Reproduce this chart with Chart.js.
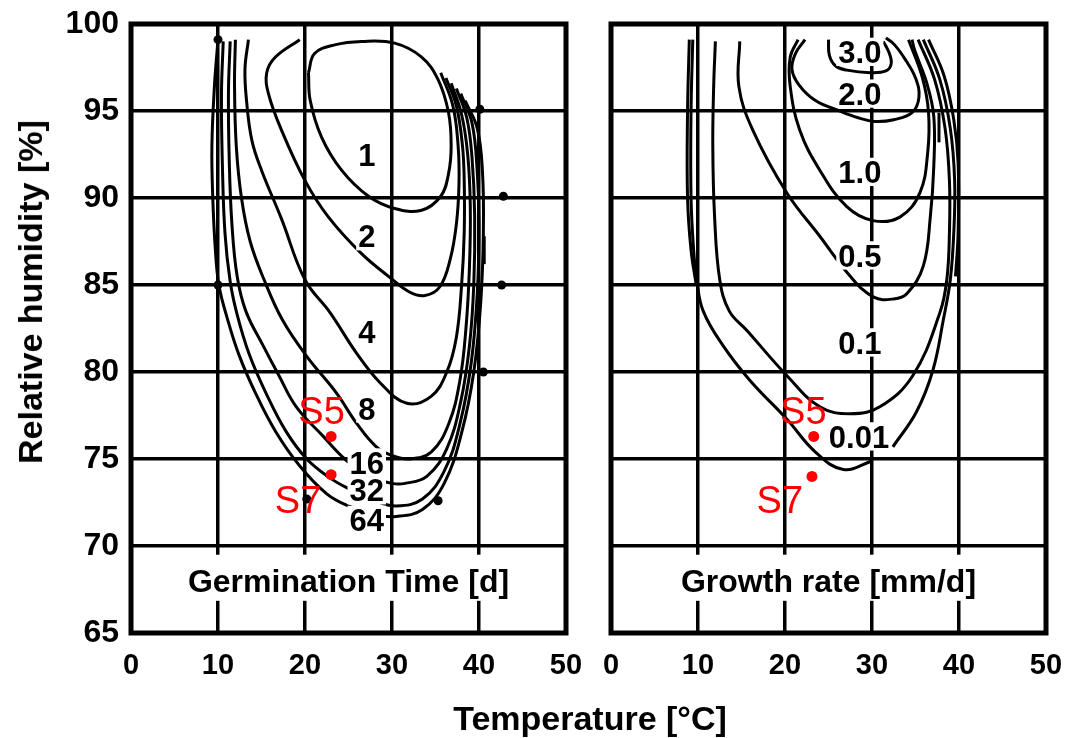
<!DOCTYPE html>
<html>
<head>
<meta charset="utf-8">
<script src="https://cdn.jsdelivr.net/npm/chart.js@4.4.1/dist/chart.umd.min.js"></script>
<style>
  body { margin: 0; background: #fff; }
  #wrap { position: relative; width: 1066px; height: 738px; overflow: hidden; background: #fff; }
  #wrap canvas { position: absolute; top: 0; }
  .ttl { position: absolute; font-family: "Liberation Sans", Arial, sans-serif; font-weight: bold; color: #000; white-space: nowrap; line-height: 1; }
  #ytitle { left: 30px; top: 292px; font-size: 34px; transform: translate(-50%, -50%) rotate(-90deg); }
  #xtitle { left: 590px; top: 718px; font-size: 34px; transform: translate(-50%, -50%); font-family: "Liberation Sans Narrow", "Liberation Sans", Arial, sans-serif; }
</style>
</head>
<body>
<div id="wrap">
  <canvas id="germ" width="590" height="738" style="left:0"></canvas>
  <canvas id="growth" width="476" height="738" style="left:590px"></canvas>
  <div class="ttl" id="ytitle">Relative humidity [%]</div>
  <div class="ttl" id="xtitle">Temperature [°C]</div>
</div>
<script>
// --- data: isopleths, [temperature °C, relative humidity %] ---

// germination time [d]
const germ1 = [[20.4,97.2],[21.1,98.3],[23.4,98.8],[26.5,99.0],[30.3,98.9],[33.4,98.1],[35.3,96.8],[36.5,94.9],[36.8,93.0],[36.5,91.4],[35.6,90.1],[33.4,89.3],[30.3,89.4],[27.3,90.1],[24.2,91.6],[21.9,93.5],[20.6,95.6],[20.4,97.2]];
const germ2 = [[19.4,99.1],[16.6,98.1],[15.6,97.2],[15.8,96.0],[17.3,93.9],[20.0,91.0],[22.7,88.9],[26.5,86.8],[29.6,85.5],[32.0,84.6],[33.8,84.4],[35.5,84.9],[36.7,86.5],[37.4,88.5],[37.7,90.8],[37.6,93.0],[37.0,95.3],[35.6,97.2]];
const germ4 = [[13.5,99.1],[13.1,97.4],[13.3,95.5],[13.9,93.3],[15.0,91.6],[17.3,88.8],[20.0,85.3],[22.9,83.4],[25.9,81.1],[28.6,79.4],[31.7,78.2],[34.5,78.6],[36.3,80.0],[37.4,82.0],[38.0,85.0],[38.3,88.0],[38.3,91.0],[38.1,93.0],[37.4,95.3],[36.2,96.9]];
const germ8 = [[12.0,99.1],[11.9,96.5],[12.1,93.0],[12.7,90.0],[13.7,87.5],[15.3,85.3],[17.4,83.0],[20.2,80.9],[23.6,78.8],[26.0,77.0],[28.2,75.7],[30.0,75.2],[32.0,75.0],[34.5,75.4],[36.5,77.0],[37.8,79.5],[38.5,82.5],[38.9,86.0],[39.0,89.5],[38.7,92.5],[38.0,94.8],[36.8,96.6]];
const germ16 = [[11.4,99.0],[11.2,96.0],[11.3,92.0],[11.6,88.5],[12.2,85.5],[13.2,83.5],[15.2,81.5],[17.0,79.8],[19.0,78.0],[22.1,76.3],[24.8,74.9],[27.5,74.0],[30.0,73.6],[31.5,73.6],[34.0,74.0],[36.3,75.6],[37.9,78.3],[38.9,81.5],[39.4,85.0],[39.5,89.0],[39.2,92.3],[38.6,94.6],[37.4,96.3]];
const germ32 = [[10.6,99.0],[10.4,96.0],[10.5,92.0],[10.8,88.0],[11.4,85.2],[12.2,83.3],[13.6,81.0],[15.5,78.8],[17.8,76.6],[20.2,75.0],[22.9,73.9],[25.0,73.3],[28.0,72.6],[30.5,72.3],[33.5,72.7],[36.0,74.3],[37.8,77.0],[39.1,80.5],[39.8,84.5],[40.0,88.5],[39.8,91.5],[39.2,94.3],[37.9,96.0]];
const germ64 = [[10.0,99.1],[9.6,96.5],[9.3,93.0],[9.4,90.0],[9.7,87.0],[10.1,85.0],[11.0,83.2],[12.4,81.0],[14.3,78.8],[16.6,76.6],[19.4,74.6],[22.5,73.0],[25.0,72.3],[28.0,71.8],[30.5,71.7],[33.5,72.1],[36.0,73.6],[38.0,76.5],[39.4,80.0],[40.2,84.0],[40.5,88.0],[40.4,91.5],[39.8,94.0],[38.4,95.6]];
const germStray = [[40.6,87.8],[40.6,86.2]];

const germLabels = ['1', '2', '4', '8', '16', '32', '64'];
const germLabelX = [27.1, 27.1, 27.1, 27.1, 27.1, 27.1, 27.1];
const germLabelY = [92.5, 87.8, 82.3, 77.9, 74.8, 73.2, 71.5];

// observed points (black)
const obsX = [10.0, 40.1, 42.8, 42.6, 10.0, 40.5, 35.3, 20.2];
const obsY = [99.1, 95.1, 90.1, 85.0, 85.0, 80.0, 72.6, 72.7];

// growth rate [mm/d]
const growth30 = [[25.0,99.1],[25.1,98.2],[25.8,97.6],[27.1,97.35],[29.8,97.2],[31.6,97.3],[32.2,97.7],[32.0,98.3],[31.3,99.0]];
const growth20 = [[22.3,99.1],[21.2,98.3],[20.8,97.4],[21.6,96.5],[23.5,95.6],[26.3,95.0],[28.5,94.6],[30.3,94.4],[32.5,94.5],[34.6,94.9],[35.4,95.8],[35.0,96.9],[33.9,97.9],[32.6,98.8],[31.6,99.2]];
const growth10 = [[21.5,99.1],[20.6,98.1],[20.6,96.4],[21.7,93.9],[24.0,91.6],[27.1,89.5],[30.1,88.7],[33.2,88.9],[35.5,90.3],[36.4,92.6],[36.5,94.9],[35.8,96.9],[34.2,99.1]];
const growth05 = [[14.8,99.0],[14.7,96.4],[16.3,93.9],[20.2,90.3],[24.0,87.8],[27.5,85.5],[30.2,84.3],[32.5,84.2],[34.0,84.5],[35.9,86.1],[36.7,88.9],[37.1,91.8],[37.1,94.7],[36.3,96.6],[34.9,98.5],[34.6,99.1]];
const growth01 = [[12.0,99.0],[11.8,96.4],[11.7,93.0],[11.9,89.0],[12.5,85.3],[13.6,83.5],[15.6,82.4],[20.2,79.8],[24.0,78.0],[27.5,77.6],[30.9,78.0],[34.7,79.8],[37.8,83.4],[38.6,85.3],[38.9,88.0],[38.9,91.0],[38.4,94.0],[37.2,96.8],[35.3,99.1]];
const growth001a = [[9.4,99.1],[9.2,95.0],[9.2,90.0],[9.5,87.0],[9.85,85.3],[10.6,83.5],[12.9,81.5],[16.0,79.5],[20.2,77.3],[23.5,75.4],[26.7,74.4],[30.1,74.9]];
const growth001b = [[32.4,75.7],[35.1,77.7],[37.0,80.1],[38.2,83.0],[39.0,85.3],[39.4,88.0],[39.5,91.0],[39.0,94.0],[37.8,96.8],[35.9,99.1]];
const growthOuterL = [[9.0,99.1],[8.8,95.0],[8.8,90.0],[9.2,87.0],[9.8,85.0]];
const growthOuterR = [[36.5,99.1],[38.3,97.0],[39.4,94.5],[39.9,92.0],[39.9,88.0],[39.6,85.5]];
const growthStray = [[37.7,94.9],[37.7,93.2]];

const growthLabels = ['3.0', '2.0', '1.0', '0.5', '0.1', '0.01'];
const growthLabelX = [28.6, 28.6, 28.6, 28.6, 28.6, 28.5];
const growthLabelY = [98.4, 96.0, 91.5, 86.7, 81.7, 76.3];

// samples S5 / S7 (red)
const sampleNames = ['S5', 'S7'];
const germSampleX = [23.0, 23.0];
const germSampleY = [76.3, 74.1];
const germSampleTextX = [21.9, 19.2];
const germSampleTextY = [77.8, 72.7];
const growthSampleX = [23.3, 23.1];
const growthSampleY = [76.3, 74.0];
const growthSampleTextX = [22.1, 19.4];
const growthSampleTextY = [77.8, 72.7];

// --- helpers ---
const FONT = '"Liberation Sans", Arial, sans-serif';
const NARROW = '"Liberation Sans Narrow", "Liberation Sans", Arial, sans-serif';
const RED = '#ff0000';

function curve(pts) {
    return {
        data: pts.map(p => ({ x: p[0], y: p[1] })),
        showLine: true,
        borderColor: '#000',
        borderWidth: 3,
        pointRadius: 0,
        tension: 0.4,
        fill: false
    };
}

function dots(xs, ys, color, r) {
    return {
        data: xs.map((x, i) => ({ x: x, y: ys[i] })),
        showLine: false,
        pointRadius: r,
        pointBackgroundColor: color,
        pointBorderColor: color,
        pointBorderWidth: 0,
        backgroundColor: color,
        borderColor: color
    };
}

// band under the inner caption, curve labels, red sample labels and the frame
const panelDecor = {
    id: 'panelDecor',
    beforeDatasetsDraw(chart, args, o) {
        const { ctx, chartArea: a, scales: { y } } = chart;
        const top = y.getPixelForValue(o.bandTop);
        const bot = y.getPixelForValue(o.bandBottom);
        ctx.save();
        ctx.fillStyle = '#fff';
        ctx.fillRect(a.left + 1, top, a.right - a.left - 2, bot - top);
        ctx.restore();
    },
    afterDatasetsDraw(chart, args, o) {
        const { ctx, scales: { x, y } } = chart;
        ctx.save();
        ctx.textAlign = 'center';
        ctx.textBaseline = 'alphabetic';

        // isopleth labels with a white box that breaks the lines
        const ls = 31, capH = ls * 0.72;
        ctx.font = 'bold ' + ls + 'px ' + FONT;
        o.labels.forEach((t, i) => {
            const px = x.getPixelForValue(o.labelX[i]);
            const py = y.getPixelForValue(o.labelY[i]);
            const w = ctx.measureText(t).width;
            ctx.fillStyle = '#fff';
            ctx.fillRect(px - w / 2 - 2, py - capH / 2 - 3, w + 4, capH + 6);
            ctx.fillStyle = '#000';
            ctx.fillText(t, px, py + capH / 2);
        });

        // caption inside the plot
        const cs = 32;
        ctx.font = 'bold ' + cs + 'px ' + FONT;
        ctx.fillStyle = '#000';
        ctx.fillText(o.title, x.getPixelForValue(25), y.getPixelForValue(o.titleY) + cs * 0.72 / 2);

        // S5 / S7
        const ss = 38;
        ctx.font = ss + 'px ' + FONT;
        ctx.fillStyle = RED;
        sampleNames.forEach((t, i) => {
            ctx.fillText(t, x.getPixelForValue(o.sampleX[i]), y.getPixelForValue(o.sampleY[i]) + ss * 0.72 / 2);
        });
        ctx.restore();
    },
    afterDraw(chart) {
        const { ctx, chartArea: a } = chart;
        ctx.save();
        ctx.lineWidth = 5;
        ctx.strokeStyle = '#000';
        ctx.strokeRect(a.left, a.top, a.right - a.left, a.bottom - a.top);
        ctx.restore();
    }
};

function makePanel(id, cfg) {
    return new Chart(document.getElementById(id), {
        type: 'scatter',
        data: { datasets: cfg.datasets },
        options: {
            responsive: false,
            animation: false,
            events: [],
            layout: { padding: { top: 24, right: cfg.padRight, left: 0, bottom: 0 } },
            plugins: {
                legend: { display: false },
                tooltip: { enabled: false },
                panelDecor: cfg.decor
            },
            scales: {
                x: {
                    type: 'linear',
                    min: 0, max: 50,
                    ticks: {
                        stepSize: 10, autoSkip: false, maxRotation: 0,
                        color: '#000', padding: 16,
                        font: { family: NARROW, size: 29, weight: 'bold' }
                    },
                    grid: { color: '#000', lineWidth: 3.5, drawTicks: false },
                    border: { display: false },
                    // fixed height, and no extra room for the end labels
                    afterFit: s => { s.height = 105; s.paddingLeft = 0; s.paddingRight = 0; }
                },
                y: {
                    type: 'linear',
                    min: 65, max: 100,
                    ticks: {
                        display: cfg.showYTicks,
                        stepSize: 5, color: '#000', padding: 12,
                        font: { family: FONT, size: 32, weight: 'bold' }
                    },
                    grid: { color: '#000', lineWidth: 3.5, drawTicks: false },
                    border: { display: false },
                    afterFit: s => { s.width = cfg.yWidth; s.paddingTop = 0; s.paddingBottom = 0; }
                }
            }
        },
        plugins: [panelDecor]
    });
}

makePanel('germ', {
    padRight: 24,
    yWidth: 131,
    showYTicks: true,
    datasets: [
        dots(germSampleX, germSampleY, RED, 5.5),
        dots(obsX, obsY, '#000', 4.5),
        curve(germ1), curve(germ2), curve(germ4), curve(germ8),
        curve(germ16), curve(germ32), curve(germ64), curve(germStray)
    ],
    decor: {
        bandTop: 69.5, bandBottom: 66.85,
        title: 'Germination Time [d]', titleY: 68.0,
        labels: germLabels, labelX: germLabelX, labelY: germLabelY,
        sampleX: germSampleTextX, sampleY: germSampleTextY
    }
});

makePanel('growth', {
    padRight: 20,
    yWidth: 21,
    showYTicks: false,
    datasets: [
        dots(growthSampleX, growthSampleY, RED, 5.5),
        curve(growth30), curve(growth20), curve(growth10), curve(growth05),
        curve(growth01), curve(growth001a), curve(growth001b),
        curve(growthOuterL), curve(growthOuterR), curve(growthStray)
    ],
    decor: {
        bandTop: 69.5, bandBottom: 66.85,
        title: 'Growth rate [mm/d]', titleY: 68.0,
        labels: growthLabels, labelX: growthLabelX, labelY: growthLabelY,
        sampleX: growthSampleTextX, sampleY: growthSampleTextY
    }
});
</script>
</body>
</html>
